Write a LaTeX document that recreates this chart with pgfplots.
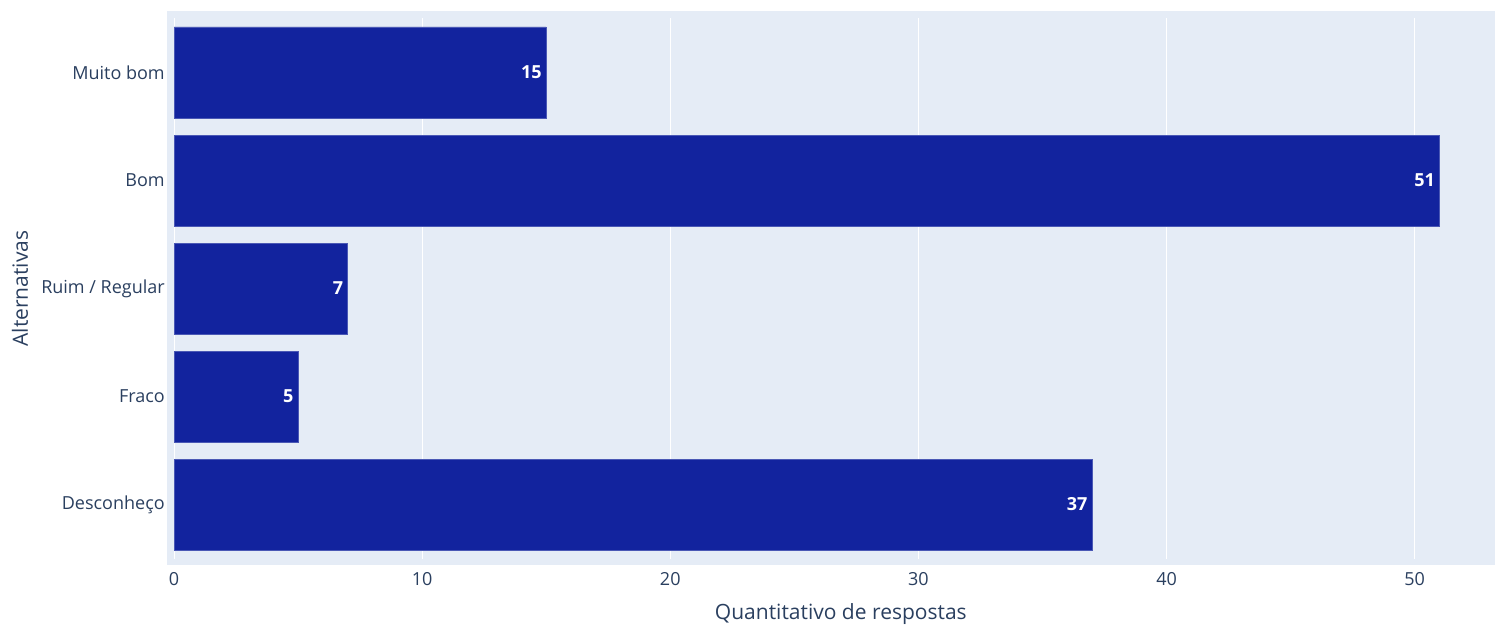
\documentclass[border=0pt]{standalone}
\usepackage{fontspec}
\setmainfont{Open Sans}
\usepackage{pgfplots}
\pgfplotsset{compat=1.18}
\definecolor{plotbg}{HTML}{E5ECF6}
\definecolor{fontc}{HTML}{2A3F5F}
\definecolor{barc}{HTML}{12239E}
\definecolor{baredge}{HTML}{4A58B5}
\begin{document}
\begin{tikzpicture}
\useasboundingbox (0pt,0pt) rectangle (1121.25pt,469.5pt);
\fill[plotbg] (125.25pt,45.75pt) rectangle (1140pt,461.25pt);
\begin{axis}[
  at={(130.5pt,50.625pt)}, anchor=south west,
  scale only axis, width=999.75pt, height=405pt,
  xbar, xmin=0, xmax=53.75, ymin=-0.5, ymax=4.5,
  bar width=68.25pt,
  ytick={0,1,2,3,4},
  yticklabels={Desconheço,Fraco,Ruim / Regular,Bom,Muito bom},
  xtick={0,10,20,30,40,50},
  axis line style={draw=none}, major tick length=0pt,
  xmajorgrids, grid style={white, line width=0.75pt},
  tick label style={font=\fontsize{13.5}{16}\selectfont, text=fontc},
  /pgf/number format/assume math mode=true,
  yticklabel style={anchor=east, inner sep=0pt, xshift=-6.75pt},
  xticklabel style={anchor=base, inner sep=0pt, yshift=-20.4pt},
  xlabel={Quantitativo de respostas},
  ylabel={Alternativas},
  label style={font=\fontsize{15.75}{18}\selectfont, text=fontc},
  xlabel style={at={(axis description cs:0.5,-0.1028)}, anchor=center},
  ylabel style={at={(axis description cs:-0.1155,0.5)}, anchor=center},
  nodes near coords,
  every node near coord/.append style={anchor=east, text=white, xshift=-3.2pt, inner sep=0pt,
    font=\fontsize{13.5}{16}\selectfont\bfseries},
]
\draw[white, line width=1.5pt] (axis cs:0,-0.5) -- (axis cs:0,4.5);
\addplot[fill=barc, draw=baredge, line width=0.5pt] coordinates {
  (37,0) (5,1) (7,2) (51,3) (15,4)
};
\end{axis}
\end{tikzpicture}
\end{document}
